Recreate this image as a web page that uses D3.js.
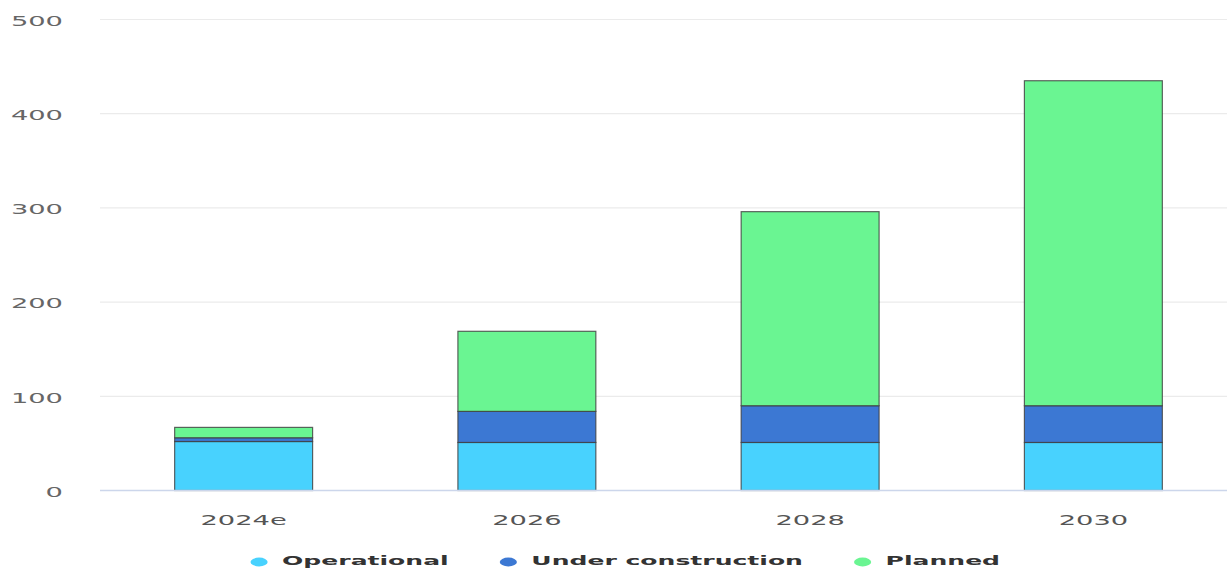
<!DOCTYPE html>
<html>
<head>
<meta charset="utf-8">
<script src="https://cdn.jsdelivr.net/npm/d3@7"></script>
<style>
  html, body { margin: 0; padding: 0; background: #ffffff; }
  svg { display: block; }
  text { font-family: "DejaVu Sans", sans-serif; }
</style>
</head>
<body>
<svg id="chart" width="1227" height="570"></svg>
<script>
// ---- data ----
const categories = ["2024e", "2026", "2028", "2030"];
const seriesNames = ["Operational", "Under construction", "Planned"];
const operational = [52, 51, 51, 51];
const underConstruction = [4, 33, 39, 39];
const planned = [11, 85, 206, 345];
const yTicks = [0, 100, 200, 300, 400, 500];
const colors = ["#48d2fe", "#3c78d3", "#6af592"];

// ---- layout ----
const plotLeft = 100, plotRight = 1227;
const stretch = 1.95; // horizontal text stretch seen in the reference

const svg = d3.select("#chart");

const x = d3.scaleBand()
  .domain(categories)
  .range([102, 1235])
  .paddingInner(0.513)
  .paddingOuter(0.2565);

const y = d3.scaleLinear()
  .domain([0, 500])
  .range([490.5, 19.5]);

// gridlines
svg.append("g")
  .selectAll("line")
  .data(yTicks.filter(d => d !== 0))
  .join("line")
  .attr("x1", plotLeft).attr("x2", plotRight)
  .attr("y1", d => y(d)).attr("y2", d => y(d))
  .attr("stroke", "#ebebeb").attr("stroke-width", 1.2);

// y tick labels
svg.append("g")
  .selectAll("text")
  .data(yTicks)
  .join("text")
  .attr("transform", d => `translate(63,${y(d) + 1.5}) scale(${stretch},1)`)
  .attr("text-anchor", "end")
  .attr("dominant-baseline", "central")
  .attr("font-size", 14)
  .attr("fill", "#666666")
  .text(d => d);

// stacked data
const rows = categories.map((c, i) => ({
  cat: c,
  Operational: operational[i],
  "Under construction": underConstruction[i],
  Planned: planned[i]
}));
const stack = d3.stack().keys(seriesNames)(rows);

svg.append("g")
  .selectAll("g")
  .data(stack)
  .join("g")
  .attr("fill", (d, i) => colors[i])
  .selectAll("rect")
  .data(d => d)
  .join("rect")
  .attr("x", d => x(d.data.cat))
  .attr("width", x.bandwidth())
  .attr("y", d => y(d[1]))
  .attr("height", d => y(d[0]) - y(d[1]))
  .attr("stroke", "#3d3d3d")
  .attr("stroke-opacity", 0.8)
  .attr("stroke-width", 1.2);

// x axis baseline
svg.append("line")
  .attr("x1", plotLeft).attr("x2", plotRight)
  .attr("y1", y(0)).attr("y2", y(0))
  .attr("stroke", "#ccd6eb").attr("stroke-width", 1.3);

// x labels
svg.append("g")
  .selectAll("text")
  .data(categories)
  .join("text")
  .attr("transform", d => `translate(${x(d) + x.bandwidth() / 2},520) scale(${stretch},1)`)
  .attr("text-anchor", "middle")
  .attr("dominant-baseline", "central")
  .attr("font-size", 14)
  .attr("fill", "#555555")
  .text(d => d);

// legend
const legend = svg.append("g")
  .attr("transform", `translate(254,561) scale(${stretch},1)`);
let cursor = 0;
seriesNames.forEach((name, i) => {
  const item = legend.append("g").attr("transform", `translate(${cursor},0)`);
  item.append("circle")
    .attr("cx", 2.6).attr("cy", 1).attr("r", 4.4)
    .attr("fill", colors[i]);
  const t = item.append("text")
    .attr("x", 14.4)
    .attr("dominant-baseline", "central")
    .attr("font-size", 12.85)
    .attr("font-weight", "bold")
    .attr("fill", "#333333")
    .text(name);
  cursor += 14.4 + t.node().getComputedTextLength() + 28;
});
</script>
</body>
</html>
